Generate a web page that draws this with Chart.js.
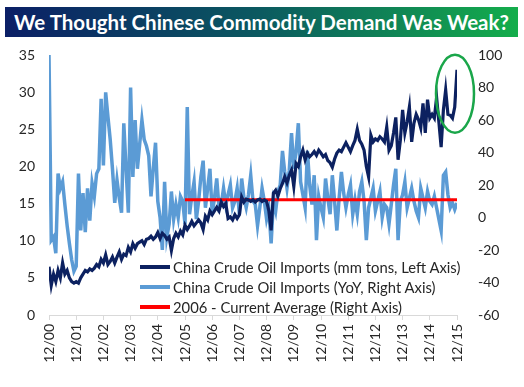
<!DOCTYPE html>
<html>
<head>
<meta charset="utf-8">
<script src="https://cdn.jsdelivr.net/npm/chart.js@4"></script>
<style>
  body { margin: 0; background: #fff; }
  #wrap { position: relative; width: 524px; height: 387px; font-family: Lato, "Liberation Sans", sans-serif; }
  #title {
    position: absolute; left: 5px; top: 7px; width: 513px; height: 30px;
    background: linear-gradient(to right, #0b1f66, #0b5a60 50%, #14ad4b);
    color: #fff; font-weight: bold; font-size: 20.5px; line-height: 30px; text-align: center;
  }
  #legend { position: absolute; left: 140px; top: 257px; font-size: 14.8px; color: #262626; }
  .row { height: 20px; display: flex; align-items: center; white-space: nowrap; }
  .swatch { width: 30px; height: 4px; margin-right: 3px; }
</style>
</head>
<body>
<div id="wrap">
  <canvas id="chart" width="524" height="387"></canvas>
  <div id="title">We Thought Chinese Commodity Demand Was Weak?</div>
  <div id="legend"></div>
</div>
<script>
// monthly, 12/00 .. 12/15
const tickLabels = ['12/00', '12/01', '12/02', '12/03', '12/04', '12/05', '12/06', '12/07',
  '12/08', '12/09', '12/10', '12/11', '12/12', '12/13', '12/14', '12/15'];

// China crude oil imports, mm tons (left axis)
const importsTons = [
  6.5, 4, 5.5, 4.5, 6, 5, 7, 5.5, 6, 5, 4.5, 4.3,
  4.5, 4.3, 5, 5.5, 6, 5.8, 6.2, 6, 6.3, 6.8, 6.5, 7.5,
  7, 8.1, 6.8, 7.2, 7.8, 7, 7.8, 8.5, 7.5, 8.2, 8, 9.1,
  8.5, 9.6, 9, 9.6, 9.8, 10, 9.5, 10.2, 10.3, 10.6, 10.2, 10.5,
  11.1, 10.3, 11, 10.7, 10.2, 10.5, 8.7, 10.3, 11, 10.5, 11.3, 10.8,
  12.1, 11.5, 12, 12.6, 12, 12.4, 12.8, 12.4, 11.5, 13.3, 12.8, 14,
  13.5, 14, 14.5, 14, 15.2, 14.6, 15, 13, 13.2, 12.8, 13.5, 13,
  13.5, 15.9, 15.2, 15.6, 15.5, 15.3, 15.5, 15.2, 15.5, 15.6, 15.3, 15.5,
  15.3, 14, 11.4, 16.4, 16.8, 16, 17, 17.7, 18.6, 17.8, 18.8, 19.5,
  17.3, 20.4, 20, 21.3, 22.2, 20.9, 21.8, 21.3, 21.6, 22, 21.5, 22.2,
  21.8, 21.3, 21.6, 20.8, 20.5, 19.9, 21, 21.8, 22.2, 22, 22.6, 23.2,
  22.6, 22, 22.8, 23.5, 25, 23.5, 23, 22.2, 20, 18.6, 24.2, 23.3,
  23.7, 23.5, 24, 23.7, 23.3, 25.3, 22.2, 22.8, 24.5, 26.6, 20.9, 23.5,
  27.6, 24.5, 26, 28, 23.3, 25.8, 27, 26.3, 25.2, 28.5, 24.5, 29,
  26.5, 27, 26.5, 29.3, 26, 22.6, 27.6, 30.3, 27, 26.9, 26.5, 28,
  33
];

// China crude oil imports, YoY % (right axis)
const importsYoY = [
  100, -14, -12, -22, 27, 18, 22, 8, -5, -16, -26, -33,
  -30, 27, -8, 15, -9, 18, -2, 21, 13, 27, 30, 73,
  32, 77, 62, 48, 30, 9, 23, 12, 3, 58, 30, 3,
  80, 25, 60, 30, 45, 60, 48, 44, 38, 13, 30, 46,
  10, 0, -20, 22, -12, -4, 16, -1, 8, 0, 13, 10,
  -4, 68, 2, 13, 22, -1, 10, 25, 35, 6, 18, 30,
  2, 12, 24, 6, 8, 18, 8, 14, 20, 6, 10, 18,
  2, 24, 12, 6, 14, 26, 10, 8, -5, 6, 18, 10,
  -1, 5, -16, 10, 4, 16, 20, 41, 28, 18, 29, 52,
  30, 41, 58, 22, 14, 6, 41, 20, 8, 26, -14, 13,
  6, 0, 24, 12, 2, 26, 10, -8, 12, 28, 15, 6,
  14, 20, 2, 11, 2, 16, 22, 10, -14, 6, 12, 18,
  4, 10, 16, 0, 8, 6, -4, 8, 20, 30, -14, 10,
  14, 22, 6, 12, 18, 10, 4, 0, 18, 12, 6, 16,
  10, 8, 13, 6, -1, -8, 26, 28, 14, 6, 9, 5,
  9
];

// 2006 - current average of YoY (right axis)
const averageYoY = 11;
const averageStart = 60;

const seriesNames = [
  'China Crude Oil Imports (mm tons, Left Axis)',
  'China Crude Oil Imports (YoY, Right Axis)',
  '2006 - Current Average (Right Axis)'
];
const colors = ['#0c2160', '#5b9bd5', '#ff0000'];

const toPoints = arr => arr.map((v, i) => ({ x: i, y: v }));
const last = importsTons.length - 1;

// green ring round the last months
const ringPlugin = {
  id: 'ring',
  afterDatasetsDraw(chart) {
    const { ctx, scales } = chart;
    const cx = scales.x.getPixelForValue(last) - 2;
    const cy = scales.yL.getPixelForValue(29.8);
    ctx.save();
    ctx.strokeStyle = '#1aa64a';
    ctx.lineWidth = 2.5;
    ctx.beginPath();
    ctx.ellipse(cx, cy, 19, 39, 0, 0, Math.PI * 2);
    ctx.stroke();
    ctx.restore();
  }
};

const tickFont = { family: 'Lato', size: 14 };

new Chart(document.getElementById('chart'), {
  type: 'line',
  data: {
    datasets: [
      { label: seriesNames[0], data: toPoints(importsTons), yAxisID: 'yL',
        borderColor: colors[0], borderWidth: 3.2, order: 0 },
      { label: seriesNames[1], data: toPoints(importsYoY), yAxisID: 'yR',
        borderColor: colors[1], borderWidth: 3.5, order: 2 },
      { label: seriesNames[2], data: [{ x: averageStart, y: averageYoY }, { x: last, y: averageYoY }],
        yAxisID: 'yR', borderColor: colors[2], borderWidth: 3, order: 1 }
    ]
  },
  options: {
    responsive: false,
    animation: false,
    elements: { point: { radius: 0 }, line: { tension: 0, borderCapStyle: 'butt' } },
    layout: { padding: { left: 0, right: 0, top: 55, bottom: 0 } },
    plugins: { legend: { display: false }, tooltip: { enabled: false } },
    scales: {
      x: {
        type: 'linear', min: 0, max: last,
        grid: { drawOnChartArea: false, color: '#d9d9d9', tickLength: 5 },
        border: { color: '#d9d9d9' },
        ticks: {
          stepSize: 12, minRotation: 90, maxRotation: 90, padding: 4,
          color: '#262626', font: tickFont,
          callback: v => tickLabels[v / 12]
        },
        afterFit: s => { s.height = 72; }
      },
      yL: {
        position: 'left', min: 0, max: 35,
        grid: { display: false, drawTicks: false },
        border: { display: false },
        ticks: { stepSize: 5, padding: 14, color: '#262626', font: tickFont },
        afterFit: s => { s.width = 49; }
      },
      yR: {
        position: 'right', min: -60, max: 100,
        grid: { display: false, drawTicks: false },
        border: { display: false },
        ticks: { stepSize: 20, padding: 21, color: '#262626', font: tickFont },
        afterFit: s => { s.width = 67; }
      }
    }
  },
  plugins: [ringPlugin]
});

// legend
const legend = document.getElementById('legend');
seriesNames.forEach((name, i) => {
  const row = document.createElement('div');
  row.className = 'row';
  row.innerHTML = `<span class="swatch" style="background:${colors[i]}"></span><span>${name}</span>`;
  legend.appendChild(row);
});
</script>
</body>
</html>
